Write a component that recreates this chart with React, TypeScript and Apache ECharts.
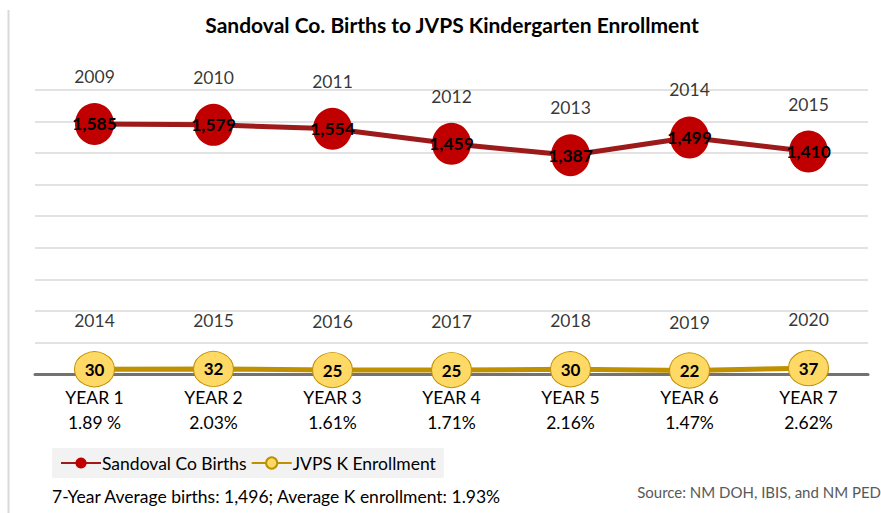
import React, { useEffect, useRef } from "react";
import * as echarts from "echarts";

const categories = ["YEAR 1", "YEAR 2", "YEAR 3", "YEAR 4", "YEAR 5", "YEAR 6", "YEAR 7"];
const pctLabels = ["1.89 %", "2.03%", "1.61%", "1.71%", "2.16%", "1.47%", "2.62%"];
const births = [1585, 1579, 1554, 1459, 1387, 1499, 1410];
const birthYears = ["2009", "2010", "2011", "2012", "2013", "2014", "2015"];
const enrollment = [30, 32, 25, 25, 30, 22, 37];
const enrollYears = ["2014", "2015", "2016", "2017", "2018", "2019", "2020"];

const FONT = "Lato, 'Open Sans', sans-serif";

export default function App() {
  const ref = useRef<HTMLDivElement>(null);
  useEffect(() => {
    if (!ref.current) return;
    const chart = echarts.init(ref.current, null, { renderer: "svg" });
    chart.setOption({
      animation: false,
      backgroundColor: "#ffffff",
      textStyle: { fontFamily: FONT },
      title: {
        text: "Sandoval Co. Births to JVPS Kindergarten Enrollment",
        left: 447,
        textAlign: "center",
        top: 9,
        textStyle: { fontFamily: FONT, fontSize: 21, fontWeight: "bold", color: "#000" },
      },
      grid: { left: 35, right: 13, top: 90, bottom: 139, containLabel: false },
      legend: {
        data: ["Sandoval Co Births", "JVPS K Enrollment"],
        left: 52,
        top: 448,
        backgroundColor: "#f2f2f2",
        padding: [6, 8],
        itemGap: 4,
        itemWidth: 40,
        itemHeight: 14,
        textStyle: { fontFamily: FONT, fontSize: 17.5, color: "#000", padding: [0, 0, 0, -4] },
      },
      xAxis: {
        type: "category",
        data: categories,
        axisTick: { show: false },
        axisLine: { lineStyle: { color: "#767171", width: 3 } },
        axisLabel: {
          margin: 11,
          formatter: (v: string, i: number) => `{a|${v}}\n{b|${pctLabels[i]}}`,
          rich: {
            a: { fontFamily: FONT, fontSize: 17.5, color: "#000", lineHeight: 25 },
            b: { fontFamily: FONT, fontSize: 17.5, color: "#000", lineHeight: 25 },
          },
        },
      },
      yAxis: {
        type: "value",
        min: 0,
        max: 1800,
        interval: 200,
        axisLabel: { show: false },
        axisLine: { show: false },
        axisTick: { show: false },
        splitLine: { lineStyle: { color: "#d9d9d9", width: 1.5 } },
      },
      series: [
        {
          name: "Sandoval Co Births",
          type: "line",
          data: births,
          symbol: "circle",
          symbolSize: [39, 42],
          itemStyle: { color: "#c00000" },
          lineStyle: { color: "#9c1a1a", width: 5 },
          label: {
            show: true,
            position: "inside",
            formatter: (p: any) => Number(p.value).toLocaleString("en-US"),
            fontFamily: FONT,
            fontSize: 17.5,
            fontWeight: "bold",
            color: "#000",
          },
          z: 3,
        },
        {
          name: "JVPS K Enrollment",
          type: "line",
          data: enrollment,
          symbol: "circle",
          symbolSize: [40, 35],
          itemStyle: { color: "#ffd966", borderColor: "#bf9000", borderWidth: 1 },
          lineStyle: { color: "#bf9000", width: 5 },
          label: {
            show: true,
            position: "inside",
            fontFamily: FONT,
            fontSize: 17,
            fontWeight: "bold",
            color: "#000",
          },
          z: 3,
        },
        {
          name: "birthYearLabels",
          type: "scatter",
          data: births,
          symbolSize: 1,
          itemStyle: { color: "rgba(0,0,0,0)" },
          label: {
            show: true,
            position: "top",
            distance: 38,
            formatter: (p: any) => birthYears[p.dataIndex],
            fontFamily: FONT,
            fontSize: 17.5,
            color: "#000",
          },
          silent: true,
        },
        {
          name: "enrollYearLabels",
          type: "scatter",
          data: enrollment,
          symbolSize: 1,
          itemStyle: { color: "rgba(0,0,0,0)" },
          label: {
            show: true,
            position: "top",
            distance: 39,
            formatter: (p: any) => enrollYears[p.dataIndex],
            fontFamily: FONT,
            fontSize: 17.5,
            color: "#000",
          },
          silent: true,
        },
      ],
      graphic: [
        {
          type: "line",
          shape: { x1: 8.5, y1: 10, x2: 8.5, y2: 513 },
          style: { stroke: "#d9d9d9", lineWidth: 2 },
        },
        {
          type: "text",
          left: 52,
          top: 487,
          style: {
            text: "7-Year Average births: 1,496; Average K enrollment: 1.93%",
            font: `17.5px ${FONT}`,
            fill: "#000",
          },
        },
        {
          type: "text",
          right: 0,
          top: 484,
          style: {
            text: "Source: NM DOH, IBIS, and NM PED",
            font: `15px ${FONT}`,
            fill: "#595959",
          },
        },
      ],
    });
    return () => chart.dispose();
  }, []);
  return (
    <div
      ref={ref}
      style={{ position: "fixed", left: 0, top: 0, width: 881, height: 513 }}
    />
  );
}
